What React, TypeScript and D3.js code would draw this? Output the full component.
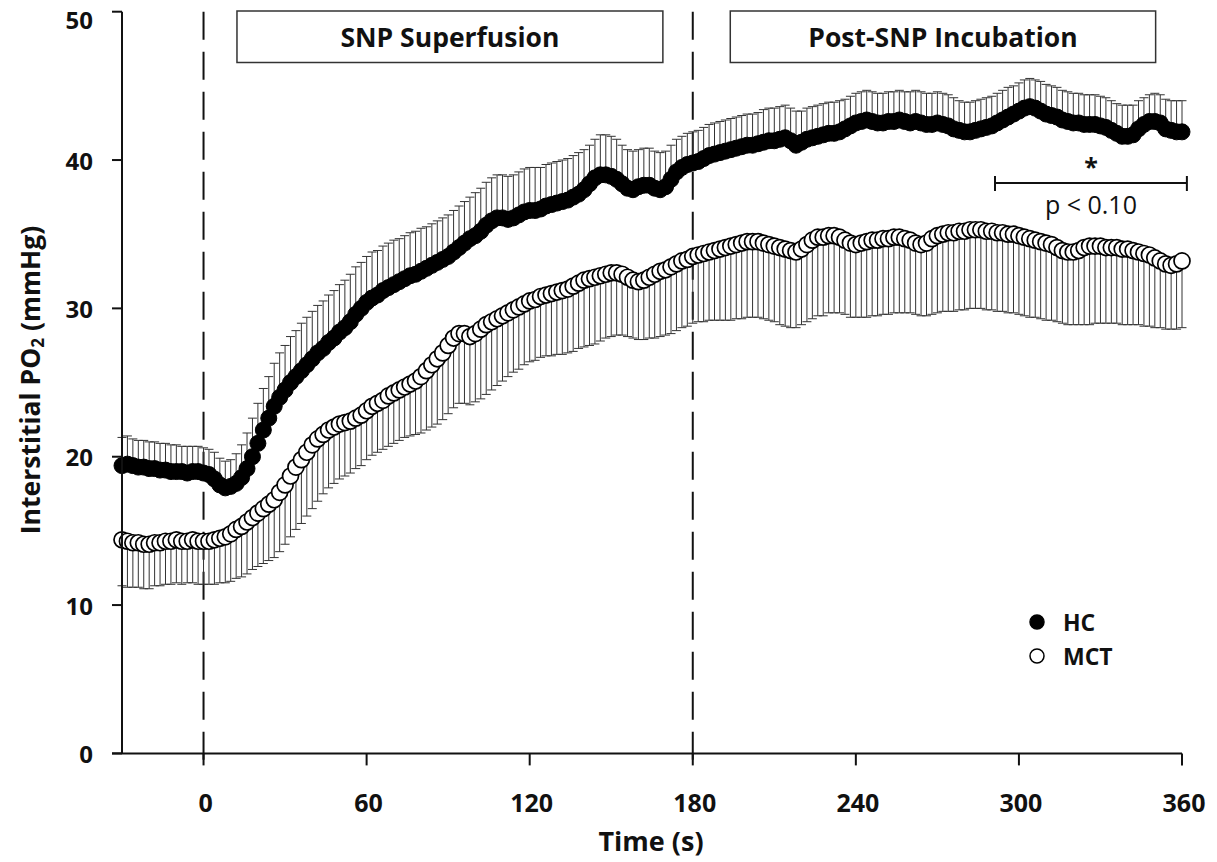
import React from 'react';
import * as d3 from 'd3';

// sampling grid (s): -30 .. 360 every 2 s
const timeStart = -30;
const timeStep = 2;

const xTicks = [0, 60, 120, 180, 240, 300, 360];
const yTicks = [0, 10, 20, 30, 40, 50];
const phaseMarks = [0, 180];
const phases = [
  { label: 'SNP Superfusion', from: 12.3, to: 169 },
  { label: 'Post-SNP Incubation', from: 193.8, to: 350.3 },
];
const seriesNames = ['HC', 'MCT'];

const hcMean = [
  19.4, 19.5, 19.4, 19.3, 19.3, 19.2, 19.2, 19.1, 19.1, 19.0,
  19.0, 19.0, 18.9, 19.0, 19.0, 18.9, 18.8, 18.5, 18.1, 17.9,
  18.0, 18.2, 18.6, 19.2, 20.0, 20.9, 21.8, 22.6, 23.4, 24.0,
  24.5, 25.0, 25.4, 25.8, 26.2, 26.6, 27.0, 27.3, 27.7, 28.0,
  28.4, 28.7, 29.1, 29.6, 30.0, 30.4, 30.7, 30.9, 31.2, 31.4,
  31.6, 31.8, 32.0, 32.2, 32.3, 32.5, 32.7, 32.9, 33.1, 33.3,
  33.5, 33.8, 34.1, 34.4, 34.7, 34.9, 35.2, 35.6, 35.9, 36.1,
  36.1, 36.0, 36.1, 36.3, 36.5, 36.6, 36.6, 36.7, 36.9, 37.0,
  37.1, 37.2, 37.3, 37.5, 37.7, 38.0, 38.4, 38.8, 39.0, 39.0,
  38.9, 38.7, 38.4, 38.1, 38.0, 38.2, 38.3, 38.3, 38.1, 38.0,
  38.2, 38.7, 39.2, 39.5, 39.7, 39.8, 39.9, 40.1, 40.3, 40.4,
  40.5, 40.6, 40.7, 40.8, 40.9, 41.0, 41.0, 41.1, 41.2, 41.3,
  41.3, 41.4, 41.5, 41.3, 41.0, 41.2, 41.4, 41.5, 41.6, 41.7,
  41.8, 41.8, 41.9, 42.1, 42.3, 42.5, 42.6, 42.7, 42.6, 42.5,
  42.5, 42.6, 42.6, 42.7, 42.6, 42.5, 42.6, 42.5, 42.4, 42.4,
  42.5, 42.4, 42.3, 42.1, 42.0, 41.9, 41.9, 42.0, 42.1, 42.2,
  42.3, 42.5, 42.7, 42.9, 43.1, 43.3, 43.5, 43.6, 43.5, 43.3,
  43.1, 43.0, 42.9, 42.7, 42.6, 42.5, 42.5, 42.4, 42.4, 42.4,
  42.3, 42.2, 42.0, 41.8, 41.6, 41.6, 41.7, 42.1, 42.4, 42.6,
  42.6, 42.5, 42.1, 42.0, 41.9, 41.9,
];

const hcSd = [
  1.9, 1.9, 1.8, 1.8, 1.8, 1.8, 1.8, 1.8, 1.8, 1.8,
  1.8, 1.7, 1.8, 1.7, 1.7, 1.7, 1.7, 1.8, 1.8, 1.8,
  1.8, 2.0, 2.2, 2.4, 2.6, 2.7, 2.8, 2.8, 2.9, 3.0,
  3.0, 3.1, 3.1, 3.2, 3.2, 3.2, 3.2, 3.2, 3.2, 3.2,
  3.2, 3.2, 3.2, 3.2, 3.1, 3.1, 3.1, 3.0, 3.0, 3.0,
  3.0, 2.9, 2.9, 2.9, 2.9, 2.9, 2.8, 2.8, 2.8, 2.8,
  2.8, 2.8, 2.8, 2.8, 2.8, 2.9, 2.9, 2.9, 2.9, 2.9,
  2.9, 2.9, 2.9, 2.9, 2.9, 2.9, 2.9, 2.8, 2.8, 2.8,
  2.8, 2.8, 2.8, 2.8, 2.8, 2.7, 2.6, 2.6, 2.7, 2.7,
  2.7, 2.7, 2.6, 2.6, 2.6, 2.5, 2.5, 2.5, 2.5, 2.5,
  2.4, 2.3, 2.2, 2.1, 2.1, 2.1, 2.1, 2.1, 2.1, 2.1,
  2.1, 2.1, 2.1, 2.1, 2.1, 2.1, 2.1, 2.1, 2.2, 2.2,
  2.2, 2.2, 2.2, 2.2, 2.3, 2.1, 2.1, 2.1, 2.1, 2.1,
  2.1, 2.1, 2.1, 2.0, 2.0, 2.0, 2.0, 2.0, 2.0, 2.0,
  2.0, 2.0, 2.0, 2.0, 2.0, 2.1, 2.1, 2.1, 2.1, 2.1,
  2.1, 2.1, 2.1, 2.1, 2.0, 2.0, 2.0, 2.0, 2.0, 2.0,
  2.0, 2.0, 2.0, 2.0, 1.9, 1.9, 1.9, 1.9, 1.9, 2.0,
  2.0, 2.0, 2.0, 2.0, 2.0, 2.0, 2.0, 2.0, 2.0, 2.0,
  2.0, 2.0, 2.0, 2.0, 2.1, 2.1, 2.0, 1.9, 1.8, 1.8,
  1.9, 1.9, 2.0, 2.0, 2.1, 2.1,
];

const mctMean = [
  14.4, 14.3, 14.2, 14.2, 14.1, 14.1, 14.2, 14.2, 14.3, 14.3,
  14.4, 14.3, 14.3, 14.4, 14.3, 14.3, 14.3, 14.4, 14.5, 14.6,
  14.8, 15.1, 15.3, 15.6, 15.9, 16.2, 16.5, 16.8, 17.1, 17.6,
  18.1, 18.7, 19.3, 19.8, 20.3, 20.8, 21.2, 21.5, 21.8, 22.0,
  22.2, 22.3, 22.4, 22.6, 22.8, 23.1, 23.4, 23.6, 23.8, 24.1,
  24.3, 24.5, 24.7, 24.9, 25.1, 25.4, 25.8, 26.2, 26.6, 27.0,
  27.5, 28.0, 28.3, 28.3, 28.1, 28.3, 28.6, 28.9, 29.1, 29.3,
  29.5, 29.7, 29.9, 30.1, 30.3, 30.5, 30.6, 30.8, 30.9, 31.0,
  31.1, 31.2, 31.3, 31.5, 31.7, 31.9, 32.0, 32.1, 32.2, 32.3,
  32.4, 32.4, 32.3, 32.1, 31.9, 31.8, 31.9, 32.1, 32.3, 32.5,
  32.6, 32.8, 33.0, 33.2, 33.3, 33.5, 33.6, 33.7, 33.8, 33.9,
  34.0, 34.1, 34.2, 34.3, 34.4, 34.5, 34.5, 34.5, 34.4, 34.3,
  34.2, 34.1, 34.0, 33.9, 33.8, 34.0, 34.3, 34.6, 34.8, 34.8,
  34.9, 34.9, 34.8, 34.6, 34.4, 34.3, 34.4, 34.5, 34.6, 34.6,
  34.7, 34.7, 34.8, 34.8, 34.7, 34.6, 34.4, 34.3, 34.4, 34.7,
  34.9, 35.0, 35.1, 35.1, 35.2, 35.2, 35.3, 35.3, 35.3, 35.2,
  35.2, 35.1, 35.1, 35.0, 35.0, 34.9, 34.8, 34.7, 34.6, 34.5,
  34.4, 34.3, 34.1, 33.9, 33.8, 33.8, 33.9, 34.1, 34.2, 34.2,
  34.2, 34.1, 34.1, 34.1, 34.0, 34.0, 33.9, 33.8, 33.7, 33.6,
  33.4, 33.2, 33.0, 32.9, 33.0, 33.2,
];

const mctSd = [
  3.1, 3.1, 3.0, 3.0, 3.0, 3.0, 2.9, 2.9, 2.9, 2.9,
  2.9, 2.9, 2.8, 2.9, 2.9, 2.9, 2.9, 3.0, 3.0, 3.1,
  3.2, 3.3, 3.4, 3.5, 3.5, 3.6, 3.7, 3.8, 3.9, 4.0,
  4.0, 4.1, 4.2, 4.3, 4.3, 4.3, 4.2, 4.0, 3.9, 3.8,
  3.7, 3.6, 3.5, 3.4, 3.4, 3.3, 3.3, 3.3, 3.3, 3.4,
  3.4, 3.4, 3.4, 3.5, 3.6, 3.8, 4.0, 4.2, 4.4, 4.5,
  4.6, 4.7, 4.7, 4.7, 4.6, 4.6, 4.7, 4.7, 4.6, 4.5,
  4.4, 4.3, 4.2, 4.2, 4.1, 4.1, 4.1, 4.1, 4.1, 4.2,
  4.2, 4.3, 4.3, 4.4, 4.4, 4.5, 4.5, 4.5, 4.4, 4.3,
  4.3, 4.2, 4.1, 4.0, 3.9, 3.9, 4.0, 4.1, 4.3, 4.4,
  4.4, 4.5, 4.5, 4.5, 4.5, 4.5, 4.5, 4.6, 4.6, 4.7,
  4.8, 4.9, 5.0, 5.0, 5.1, 5.1, 5.1, 5.1, 5.1, 5.1,
  5.1, 5.2, 5.2, 5.2, 5.1, 5.1, 5.2, 5.3, 5.3, 5.3,
  5.2, 5.2, 5.1, 5.0, 5.0, 4.9, 5.0, 5.1, 5.1, 5.1,
  5.1, 5.1, 5.1, 5.1, 5.0, 4.9, 4.8, 4.8, 4.9, 5.1,
  5.2, 5.2, 5.3, 5.3, 5.3, 5.3, 5.3, 5.3, 5.3, 5.3,
  5.3, 5.3, 5.3, 5.3, 5.3, 5.3, 5.3, 5.3, 5.2, 5.2,
  5.2, 5.1, 5.0, 4.9, 4.9, 4.9, 5.0, 5.2, 5.3, 5.2,
  5.2, 5.1, 5.1, 5.1, 5.1, 5.1, 5.0, 4.9, 4.9, 4.8,
  4.7, 4.5, 4.4, 4.3, 4.4, 4.5,
];

const sigRange = [291.2, 361.8];
const sigStar = '*';
const sigText = 'p < 0.10';

const W = 1217;
const H = 862;
const FONT = "'Open Sans', 'Noto Sans', sans-serif";

export default function App() {
  const x = d3.scaleLinear().domain([-30, 360]).range([122, 1182]);
  const y = d3.scaleLinear().domain([0, 50]).range([753.4, 11.7]);
  const t = (i: number) => timeStart + i * timeStep;
  const R = 8;
  const cap = 4.5;

  const hcPts = hcMean.map((v, i) => ({ t: t(i), v, sd: hcSd[i] }));
  const mctPts = mctMean.map((v, i) => ({ t: t(i), v, sd: mctSd[i] }));

  const x0 = x.range()[0];
  const x1 = x.range()[1];
  const yBase = y(0);
  const yTop = y(50);

  return (
    <svg
      width={W}
      height={H}
      viewBox={`0 0 ${W} ${H}`}
      style={{ position: 'absolute', left: 0, top: 0, background: '#fff' }}
      fontFamily={FONT}
    >
      <rect x={0} y={0} width={W} height={H} fill="#fff" />

      {/* phase dashed lines */}
      {phaseMarks.map((m) => (
        <line
          key={m}
          x1={x(m)}
          x2={x(m)}
          y1={yTop}
          y2={yBase + 12}
          stroke="#111"
          strokeWidth={2}
          strokeDasharray="28 12"
        />
      ))}

      {/* phase boxes */}
      {phases.map((p) => (
        <g key={p.label}>
          <rect
            x={x(p.from)}
            y={11}
            width={x(p.to) - x(p.from)}
            height={51.5}
            fill="#fff"
            stroke="#333"
            strokeWidth={1.5}
          />
          <text
            x={(x(p.from) + x(p.to)) / 2}
            y={37}
            textAnchor="middle"
            dominantBaseline="central"
            fontWeight={700}
            fontSize={26.5}
            fill="#111"
          >
            {p.label}
          </text>
        </g>
      ))}

      {/* HC error bars (upward) */}
      <g stroke="#333" strokeWidth={1}>
        {hcPts.map((d, i) => (
          <g key={'he' + i}>
            <line x1={x(d.t)} x2={x(d.t)} y1={y(d.v)} y2={y(d.v + d.sd)} />
            <line x1={x(d.t) - cap} x2={x(d.t) + cap} y1={y(d.v + d.sd)} y2={y(d.v + d.sd)} />
          </g>
        ))}
      </g>
      {/* MCT error bars (downward) */}
      <g stroke="#333" strokeWidth={1}>
        {mctPts.map((d, i) => (
          <g key={'me' + i}>
            <line x1={x(d.t)} x2={x(d.t)} y1={y(d.v)} y2={y(d.v - d.sd)} />
            <line x1={x(d.t) - cap} x2={x(d.t) + cap} y1={y(d.v - d.sd)} y2={y(d.v - d.sd)} />
          </g>
        ))}
      </g>

      {/* HC markers */}
      <g>
        {hcPts.map((d, i) => (
          <circle key={'hc' + i} cx={x(d.t)} cy={y(d.v)} r={R} fill="#000" stroke="#000" strokeWidth={1} />
        ))}
      </g>
      {/* MCT markers */}
      <g>
        {mctPts.map((d, i) => (
          <circle key={'mc' + i} cx={x(d.t)} cy={y(d.v)} r={R} fill="#fff" stroke="#000" strokeWidth={1.7} />
        ))}
      </g>

      {/* Axes */}
      <line x1={x0} x2={x0} y1={yTop} y2={yBase} stroke="#111" strokeWidth={2} />
      <line x1={x0 - 10} x2={x1} y1={yBase} y2={yBase} stroke="#111" strokeWidth={2} />
      {yTicks.map((v) => (
        <g key={'yt' + v}>
          <line x1={x0 - 10} x2={x0} y1={y(v)} y2={y(v)} stroke="#111" strokeWidth={2} />
          <text
            x={93}
            y={Math.max(y(v), 19)}
            textAnchor="end"
            dominantBaseline="central"
            fontWeight={700}
            fontSize={24}
            fill="#111"
          >
            {v}
          </text>
        </g>
      ))}
      {xTicks.map((v) => (
        <g key={'xt' + v}>
          <line x1={x(v)} x2={x(v)} y1={yBase} y2={yBase + 12} stroke="#111" strokeWidth={2} />
          <text
            x={x(v) + 2}
            y={802}
            textAnchor="middle"
            dominantBaseline="central"
            fontWeight={700}
            fontSize={25}
            fill="#111"
          >
            {v}
          </text>
        </g>
      ))}

      {/* Axis titles */}
      <text x={651} y={840} textAnchor="middle" dominantBaseline="central" fontWeight={700} fontSize={27} fill="#111">
        Time (s)
      </text>
      <text
        transform={`translate(30, 380) rotate(-90)`}
        textAnchor="middle"
        dominantBaseline="central"
        fontWeight={700}
        fontSize={26.5}
        fill="#111"
      >
        Interstitial PO
        <tspan fontSize={17} dy={7}>2</tspan>
        <tspan dy={-7}> (mmHg)</tspan>
      </text>

      {/* significance bracket */}
      <g stroke="#111" strokeWidth={2}>
        <line x1={x(sigRange[0])} x2={x(sigRange[1])} y1={183} y2={183} />
        <line x1={x(sigRange[0])} x2={x(sigRange[0])} y1={176} y2={191} />
        <line x1={x(sigRange[1])} x2={x(sigRange[1])} y1={176} y2={191} />
      </g>
      <text
        x={(x(sigRange[0]) + x(sigRange[1])) / 2}
        y={166}
        textAnchor="middle"
        dominantBaseline="central"
        fontWeight={700}
        fontSize={25}
        fill="#111"
      >
        {sigStar}
      </text>
      <text
        x={(x(sigRange[0]) + x(sigRange[1])) / 2}
        y={204}
        textAnchor="middle"
        dominantBaseline="central"
        fontSize={25}
        fill="#111"
      >
        {sigText}
      </text>

      {/* legend */}
      {seriesNames.map((n, i) => (
        <g key={n}>
          <circle
            cx={1037}
            cy={622 + i * 34}
            r={7}
            fill={i === 0 ? '#000' : '#fff'}
            stroke="#000"
            strokeWidth={1.5}
          />
          <text
            x={1063}
            y={622 + i * 34}
            dominantBaseline="central"
            fontWeight={700}
            fontSize={23}
            fill="#111"
          >
            {n}
          </text>
        </g>
      ))}
    </svg>
  );
}
